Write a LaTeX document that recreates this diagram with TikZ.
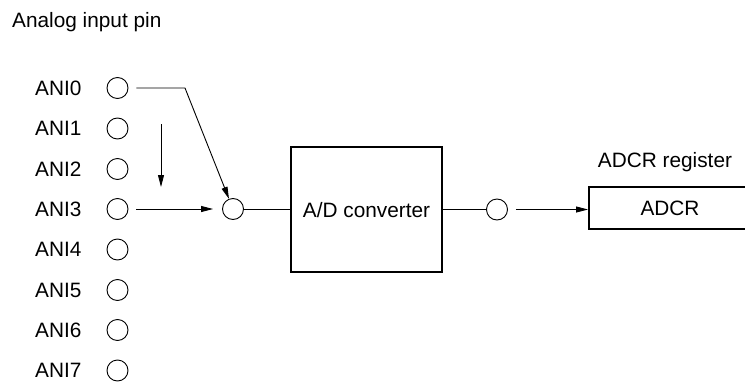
\documentclass[tikz,border=0pt]{standalone}
\usepackage{fontspec}
\setmainfont{Liberation Sans}
\usetikzlibrary{arrows.meta}
\begin{document}
\begin{tikzpicture}[x=1pt,y=-1pt,
  txt/.style={font=\fontsize{20.8}{25}\selectfont, inner sep=0pt},
  pin/.style={circle, draw, line width=0.9pt, minimum size=21pt, inner sep=0pt},
  thick box/.style={draw, line width=2pt, inner sep=0pt, txt, text height=15pt, text depth=0pt},
  wire/.style={line width=0.9pt},
  arr/.style={wire, -{Triangle[length=12pt,width=6pt]}}
]
\useasboundingbox (0,0) rectangle (745,383);
\node[txt, anchor=base west] (title) at (12,27) {Analog input pin};
\foreach \i/\y in {0/88,1/128.5,2/169,3/209,4/249.5,5/290,6/330,7/370.5}{
  \node[txt, anchor=west] (l\i) at (35,\y) {ANI\i};
  \node[pin] (p\i) at (117.5,\y) {};
}
\node[pin] (m) at (233,209) {};
\node[thick box, minimum width=151pt, minimum height=125pt] (adc) at (366.5,209.5) {A/D converter};
\node[pin] (o) at (497,209.5) {};
\node[thick box, minimum width=162pt, minimum height=42pt] (r) at (670,208) {ADCR};
\node[txt] (rl) at (665,162) {ADCR register};
\coordinate (b0) at (185,88);
\coordinate (s1) at (161,124);
\coordinate (e1) at (161,187);
\draw[arr, shorten <=8pt] (p0.east) -- (b0) -- (m);
\draw[arr] (s1) -- (e1);
\draw[arr, shorten <=8pt, shorten >=9pt] (p3.east) -- (m.west);
\draw[wire] (m.east) -- (adc.west |- m.east);
\draw[wire] (adc.east |- o.west) -- (o.west);
\draw[arr, shorten <=8pt] (o.east) -- (r.west |- o.east);
\end{tikzpicture}
\end{document}
